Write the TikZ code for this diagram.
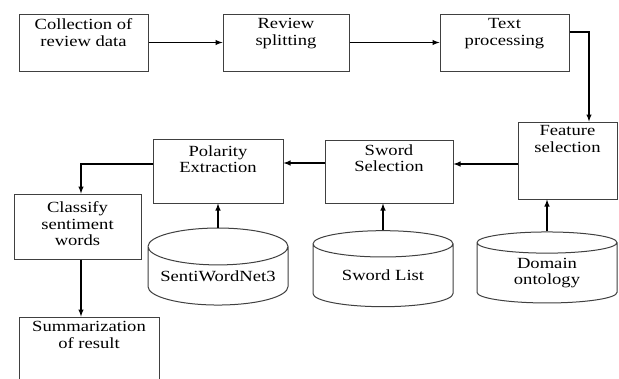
\documentclass[tikz,border=0pt]{standalone}
\usepackage{fontspec}
\setmainfont[FakeStretch=1.2]{Liberation Serif}
\usetikzlibrary{arrows,shapes,positioning,calc}
\tikzset{
    box/.style={draw=black!75,line width=1pt,rectangle,inner sep=0pt},
    txt/.style={align=center,inner sep=0pt,font=\rmfamily\fontsize{15.5}{16.5}\selectfont},
    db/.style={draw=black!75,line width=1pt,cylinder,shape border rotate=90,aspect=0.32,inner sep=0pt,align=center,font=\rmfamily\fontsize{15.5}{16.5}\selectfont},
    arr/.style={-latex,line width=1.4pt},
}
\begin{document}
\begin{tikzpicture}[x=1pt,y=1pt]
                \clip (0,0) rectangle (619,-378);
                \fill[white] (0,0) rectangle (619,-378);
                % boxes
                \node[box,minimum width=129pt,minimum height=57pt] (coll) at (83.5,-42.5) {};
                \node[box,minimum width=126pt,minimum height=57pt] (split) at (286,-42.5) {};
                \node[box,minimum width=129pt,minimum height=57pt] (proc) at (504.5,-42.5) {};
                \node[box,minimum width=99pt,minimum height=77pt] (feat) at (567.5,-160.5) {};
                \node[box,minimum width=128pt,minimum height=63pt] (sword) at (389,-171.5) {};
                \node[box,minimum width=130pt,minimum height=64pt] (polar) at (218,-171) {};
                \node[box,minimum width=127pt,minimum height=65pt] (class) at (77.5,-226.5) {};
                \node[box,minimum width=140pt,minimum height=80pt] (summ) at (89,-357) {};
                % texts
                \node[txt,below=5pt of coll.north] (colltxt) {Collection of\\review data};
                \node[txt,below=5pt of split.north] (splittxt) {Review\\splitting};
                \node[txt,below=5pt of proc.north] (proctxt) {Text\\processing};
                \node[txt,below=4pt of feat.north] (feattxt) {Feature\\selection};
                \node[txt,below=5pt of sword.north] (swordtxt) {Sword\\Selection};
                \node[txt,below=7pt of polar.north] (polartxt) {Polarity\\Extraction};
                \node[txt,below=8pt of class.north] (classtxt) {Classify\\sentiment\\words};
                \node[txt,below=5pt of summ.north] (summtxt) {Summarization\\of result};
                % databases
                \node[db,minimum width=140pt,minimum height=77pt] (swn) at (218,-276) {SentiWordNet3};
                \node[db,minimum width=140pt,minimum height=76pt] (slist) at (383,-275.5) {Sword List};
                \node[db,minimum width=140pt,minimum height=71pt] (dom) at (547,-273) {Domain\\ontology};
                % arrows
                \draw[arr] (coll) -- (split);
                \draw[arr] (split) -- (proc);
                \draw[arr] ([yshift=10.5pt]proc.east) -| ([xshift=21.5pt]feat.north);
                \draw[arr] ([yshift=-3.5pt]feat.west) -- ([yshift=7.5pt]sword.east);
                \draw[arr] ([yshift=8.5pt]sword.west) -- ([yshift=8pt]polar.east);
                \draw[arr] ([yshift=7pt]polar.west) -| ([xshift=3.5pt]class.north);
                \draw[arr] ([xshift=3.5pt]class.south) -- ([xshift=-8pt]summ.north);
                \draw[arr] (swn.top) -- (swn.top |- polar.south);
                \draw[arr] (slist.top) -- (slist.top |- sword.south);
                \draw[arr] (dom.top) -- (dom.top |- feat.south);
            \end{tikzpicture}
\end{document}
